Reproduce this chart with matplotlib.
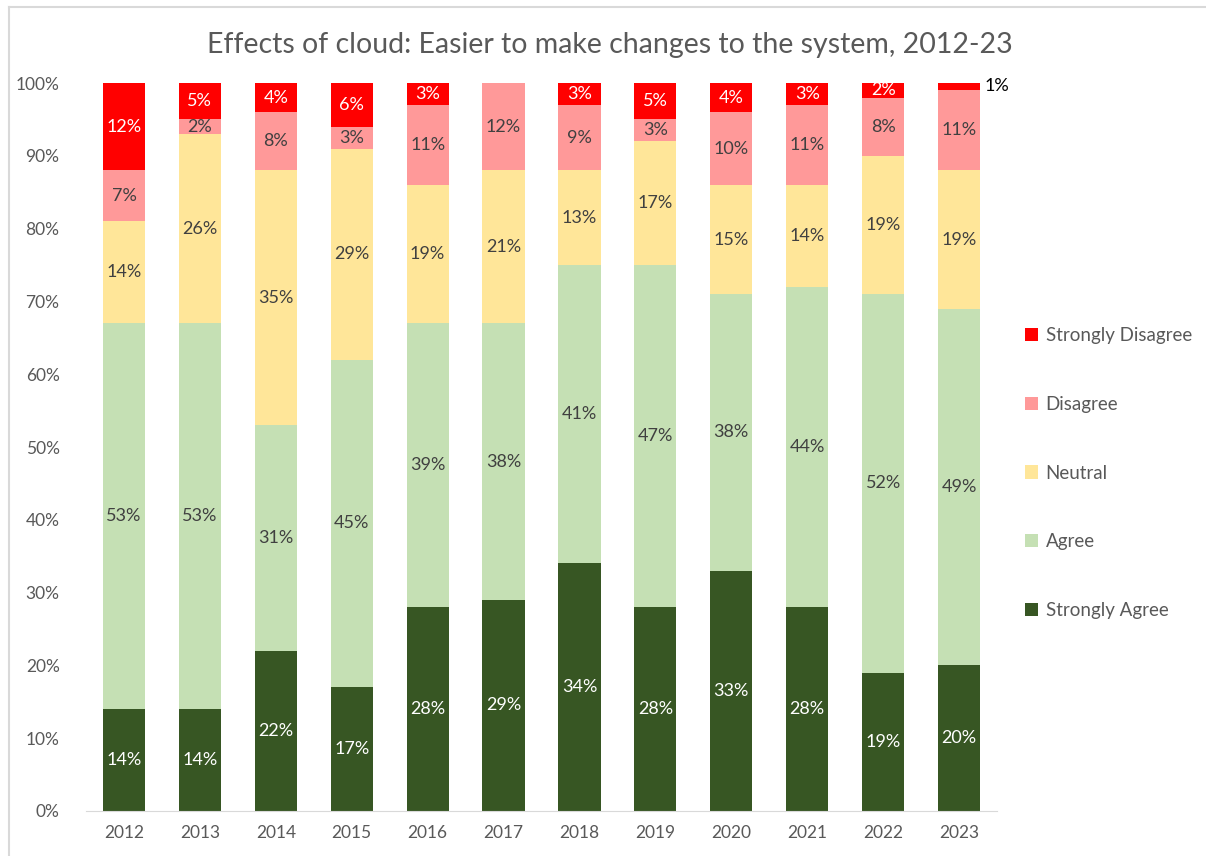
import numpy as np
import matplotlib
matplotlib.use("Agg")
from matplotlib import pyplot as plt
from matplotlib.lines import Line2D

plt.rcParams['font.family'] = ['Lato', 'DejaVu Sans']

years = ['2012', '2013', '2014', '2015', '2016', '2017',
         '2018', '2019', '2020', '2021', '2022', '2023']
strongly_agree = [14, 14, 22, 17, 28, 29, 34, 28, 33, 28, 19, 20]
agree = [53, 53, 31, 45, 39, 38, 41, 47, 38, 44, 52, 49]
neutral = [14, 26, 35, 29, 19, 21, 13, 17, 15, 14, 19, 19]
disagree = [7, 2, 8, 3, 11, 12, 9, 3, 10, 11, 8, 11]
strongly_disagree = [12, 5, 4, 6, 3, 0, 3, 5, 4, 3, 2, 1]

series = [
    ("Strongly Agree", strongly_agree, "#375623", "white"),
    ("Agree", agree, "#C5E0B4", "#404040"),
    ("Neutral", neutral, "#FFE699", "#404040"),
    ("Disagree", disagree, "#FF9999", "#404040"),
    ("Strongly Disagree", strongly_disagree, "#FF0000", "white"),
]

fig = plt.figure(figsize=(12.06, 8.56), dpi=100)
ax = fig.add_axes([0.0713, 0.0526, 0.7554, 0.8504])

x = np.arange(len(years))
bottom = np.zeros(len(years))
handles = []
for name, vals, col, tcol in series:
    vals = np.array(vals, dtype=float)
    bars = ax.bar(x, vals / 100, 0.555, bottom=bottom / 100, color=col,
                  label=name, linewidth=0)
    handles.append(bars)
    for i, v in enumerate(vals):
        if v <= 0:
            continue
        if name == "Strongly Disagree" and v < 2:
            # small value shown beside the bar
            ax.text(x[i] + 0.33, (bottom[i] + v / 2) / 100 + 0.001, f"{int(v)}%",
                    ha='left', va='center', fontsize=13, color='black')
        else:
            ax.text(x[i], (bottom[i] + v / 2) / 100, f"{int(v)}%",
                    ha='center', va='center', fontsize=13, color=tcol)
    bottom += vals

ax.set_xlim(-0.5, len(years) - 0.5)
ax.set_ylim(0, 1)
ax.set_yticks(np.arange(0, 1.01, 0.1))
ax.set_yticklabels([f"{int(round(t * 100))}%" for t in np.arange(0, 1.01, 0.1)])
ax.set_xticks(x)
ax.set_xticklabels(years)
ax.tick_params(axis='both', length=0, labelsize=12.5, colors='#595959', pad=10)
ax.tick_params(axis='y', pad=19)
for s in ['top', 'right', 'left']:
    ax.spines[s].set_visible(False)
ax.spines['bottom'].set_color('#D9D9D9')

ax.set_title("Effects of cloud: Easier to make changes to the system, 2012-23",
             fontsize=20.5, color='#595959', pad=21.5)
ax.title.set_position((0.575, 1.0))

leg = fig.legend(handles[::-1], [s[0] for s in series[::-1]],
                 loc='center left', bbox_to_anchor=(0.836, 0.4474),
                 frameon=False, fontsize=13.5, labelspacing=2.75,
                 handlelength=0.7, handleheight=0.7, handletextpad=0.4)
for t in leg.get_texts():
    t.set_color('#595959')

fig.add_artist(Line2D([0.0075, 0.0075], [0.0, 0.992], transform=fig.transFigure,
                      color='#D9D9D9', linewidth=1.5))
fig.add_artist(Line2D([0.0075, 1.0], [0.992, 0.992], transform=fig.transFigure,
                      color='#D9D9D9', linewidth=1.5))

fig.savefig("out.png", dpi=100, facecolor='white')
